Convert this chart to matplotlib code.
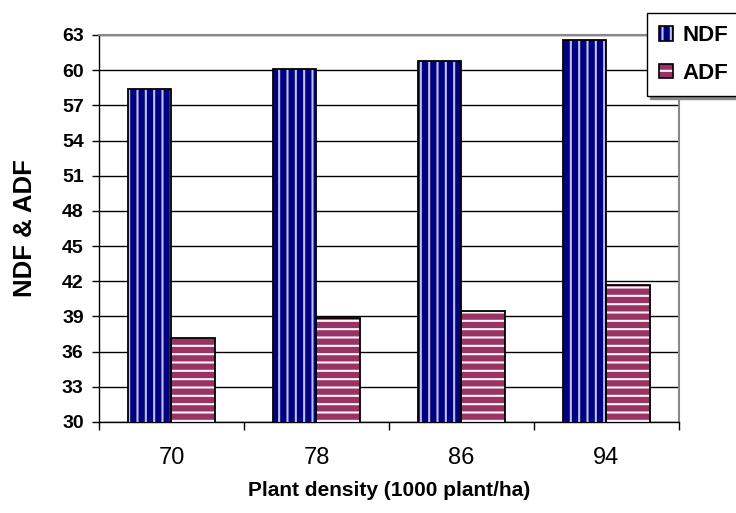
import numpy as np
import matplotlib.pyplot as plt
from matplotlib.patches import Patch
from matplotlib.legend_handler import HandlerTuple

plt.rcParams['font.family'] = ['Liberation Sans', 'DejaVu Sans']
plt.rcParams['hatch.linewidth'] = 1.5

densities = ['70', '78', '86', '94']
ndf = [58.4, 60.1, 60.8, 62.6]
adf = [37.2, 38.9, 39.5, 41.7]

fig = plt.figure(figsize=(7.36, 5.13), dpi=100)
ax = fig.add_axes([0.1345, 0.1774, 0.788, 0.7544])

x = np.arange(len(densities))
w = 0.298

# striped fill first, black outline on top
ax.bar(x - w/2, ndf, w, color='#000080', edgecolor='#c0c0f4', hatch='||', linewidth=0, zorder=3)
ax.bar(x - w/2, ndf, w, facecolor='none', edgecolor='black', linewidth=1.3, zorder=4)
ax.bar(x + w/2, adf, w, color='#993366', edgecolor='#fff4f8', hatch='--', linewidth=0, zorder=3)
ax.bar(x + w/2, adf, w, facecolor='none', edgecolor='black', linewidth=1.3, zorder=4)

ax.set_ylim(30, 63)
ax.set_xlim(-0.5, 3.5)
ax.set_yticks(np.arange(30, 64, 3))
ax.set_xticks(x)
ax.set_xticklabels(densities, fontsize=17)
for t in ax.get_yticklabels():
    t.set_fontweight('bold')
    t.set_fontsize(14)
ax.set_xticks(np.arange(-0.5, 4, 1), minor=True)
ax.tick_params(axis='x', which='major', length=0, pad=18)
ax.tick_params(axis='x', which='minor', length=6, width=1, color='black')
ax.tick_params(axis='y', length=5, width=1, color='black', pad=6)

ax.yaxis.grid(True, color='black', linewidth=1, zorder=0)
ax.set_axisbelow(True)
for s in ['top', 'right']:
    ax.spines[s].set_color('#888888')
    ax.spines[s].set_linewidth(1.5)
for s in ['left', 'bottom']:
    ax.spines[s].set_color('black')
    ax.spines[s].set_linewidth(1.0)

ax.set_xlabel('Plant density (1000 plant/ha)', fontsize=15, fontweight='bold', labelpad=9)
ax.set_ylabel('NDF & ADF', fontsize=18.5, fontweight='bold', labelpad=18)

h1 = Patch(facecolor='#000080', edgecolor='#c0c0f4', hatch='||', linewidth=0)
h2 = Patch(facecolor='#993366', edgecolor='#fff4f8', hatch='--', linewidth=0)
o1 = Patch(facecolor='none', edgecolor='black', linewidth=1.2)
o2 = Patch(facecolor='none', edgecolor='black', linewidth=1.2)
leg = fig.legend([(h1, o1), (h2, o2)], ['NDF', 'ADF'], loc='upper left',
                 bbox_to_anchor=(647/736, 1 - 13/513), borderaxespad=0,
                 handler_map={tuple: HandlerTuple(ndivide=1, pad=0)},
                 prop={'weight': 'bold', 'size': 16}, frameon=True, fancybox=False,
                 shadow={'color': '#888888', 'alpha': 1}, handlelength=0.6, handleheight=0.65,
                 labelspacing=0.75, borderpad=0.55, handletextpad=0.45)
leg.get_frame().set_edgecolor('black')
leg.get_frame().set_linewidth(1)

fig.savefig('out.png', dpi=100)
